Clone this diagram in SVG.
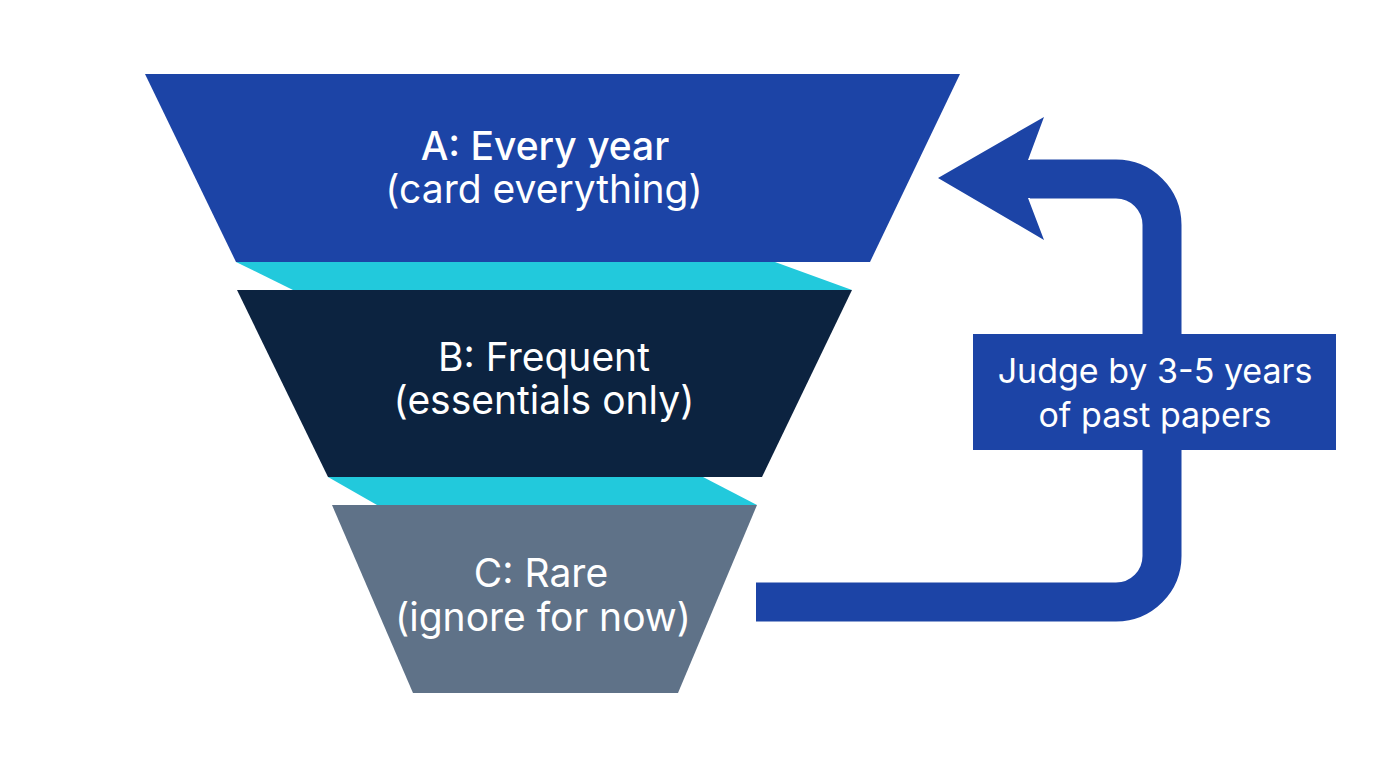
<svg xmlns="http://www.w3.org/2000/svg" width="1376" height="768" viewBox="0 0 1376 768">
  <style>
    .lbl { font-family: Inter, "Liberation Sans", Arial, sans-serif; fill: #ffffff; text-anchor: middle; font-size: 39px; }
    .head { font-weight: 500; }
    .blue { fill: #1c44a6; }
    .cyan { fill: #22c9dc; }
  </style>
  <rect width="1376" height="768" fill="#ffffff"/>

  <!-- cyan separators between tiers -->
  <g id="separators">
    <polygon class="cyan" points="236,262 775,262 852,290 293,290"/>
    <polygon class="cyan" points="328,477 703,477 757,505 377,505"/>
  </g>

  <g id="tier-a">
    <polygon class="blue" points="145,74 960,74 870,262 236,262"/>
    <text class="lbl head" x="545" y="160">A: Every year</text>
    <text class="lbl" x="544" y="203">(card everything)</text>
  </g>

  <g id="tier-b">
    <polygon fill="#0c2340" points="237,290 852,290 762,477 328,477"/>
    <text class="lbl" x="544" y="371">B: Frequent</text>
    <text class="lbl" x="544" y="414">(essentials only)</text>
  </g>

  <g id="tier-c">
    <polygon fill="#5f7288" points="332,505 757,505 678,693 413,693"/>
    <text class="lbl" x="541" y="587">C: Rare</text>
    <text class="lbl" x="543" y="631">(ignore for now)</text>
  </g>

  <!-- feedback loop from C back up to A -->
  <g id="connectors">
    <path d="M756,602 H1116 A46,46 0 0 0 1162,556 V225 A46,46 0 0 0 1116,179 H1030" fill="none" stroke="#1c44a6" stroke-width="39"/>
    <polygon class="blue" points="938,178 1044,117 1028,160 1032,160 1032,198 1028,198 1044,240"/>
  </g>

  <g id="criterion">
    <rect class="blue" x="973" y="334" width="363" height="116"/>
    <text class="lbl" x="1155" y="383" style="font-size:34px">Judge by 3-5 years</text>
    <text class="lbl" x="1155" y="427" style="font-size:34px">of past papers</text>
  </g>
</svg>
